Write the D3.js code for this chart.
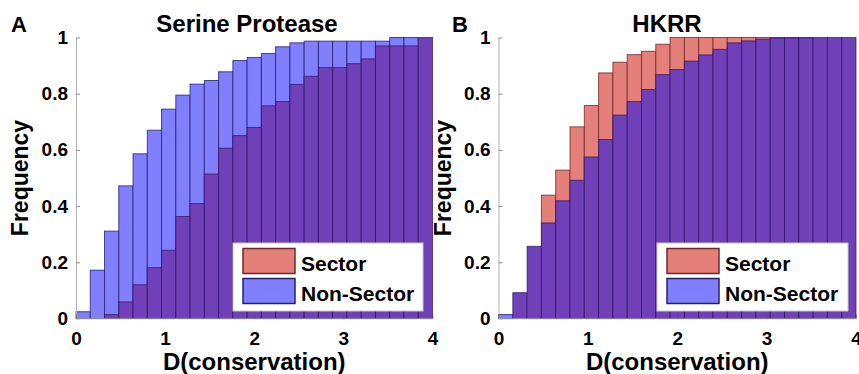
<!DOCTYPE html>
<html><head><meta charset="utf-8">
<script src="https://cdn.jsdelivr.net/npm/d3@7"></script>
<style>body{margin:0;background:#fff}svg{display:block;font-family:"Liberation Sans",Arial,sans-serif;font-weight:bold}</style>
</head><body><svg id="c" width="859" height="374"></svg>
<script>
const binWidth = 0.16;
const nBins = 25;
const xTicks = [0,1,2,3,4];
const yTicks = [0,0.2,0.4,0.6,0.8,1];
const yTickLabels = ["0","0.2","0.4","0.6","0.8","1"];
const legendLabels = ["Sector","Non-Sector"];

const spNonSector = [0.024,0.172,0.311,0.472,0.586,0.670,0.745,0.795,0.834,0.847,0.878,0.918,0.929,0.943,0.967,0.981,0.987,0.987,0.987,0.987,0.987,0.987,1,1,1];
const spSector    = [0,0,0.014,0.059,0.12,0.181,0.243,0.363,0.409,0.514,0.606,0.651,0.680,0.757,0.772,0.833,0.862,0.893,0.893,0.907,0.924,0.970,0.970,0.970,1];
const hkNonSector = [0.014,0.092,0.257,0.340,0.419,0.492,0.575,0.637,0.724,0.772,0.815,0.868,0.886,0.916,0.938,0.958,0.981,0.988,0.994,0.998,0.999,0.999,1,1,1];
const hkSector    = [0,0.092,0.257,0.439,0.528,0.682,0.758,0.874,0.912,0.939,0.951,0.976,1,1,1,1,1,1,1,1,1,1,1,1,1];

const panels = [
  {letter:"A", title:"Serine Protease", sector:spSector, non:spNonSector, x0:76, x1:432.5, titleX:247, letterX:11, legX:233, legW:190},
  {letter:"B", title:"HKRR", sector:hkSector, non:hkNonSector, x0:498.5, x1:856, titleX:667, letterX:452, legX:657, legW:191}
];
const yTop = 37.5, yBot = 318.5;
const colRed = "#e57f7a", colBlue = "#7f7fff", colPurple = "#7040b8";
const strRed = "#6b2a2a", strBlue = "#23236b", strPurple = "#2e1460";

const svg = d3.select("#c");
panels.forEach(p => {
  const g = svg.append("g");
  const x = d3.scaleLinear().domain([0,4]).range([p.x0,p.x1]);
  const y = d3.scaleLinear().domain([0,1]).range([yBot,yTop]);
  const bins = d3.range(nBins).map(i => ({i, lo:i*binWidth, s:p.sector[i], n:p.non[i]}));
  g.selectAll("rect.top").data(bins.filter(d => d.s !== d.n)).join("rect")
    .attr("x", d => x(d.lo)).attr("width", d => x(d.lo+binWidth)-x(d.lo))
    .attr("y", d => y(Math.max(d.s,d.n))).attr("height", d => y(0)-y(Math.max(d.s,d.n)))
    .attr("fill", d => d.n > d.s ? colBlue : colRed)
    .attr("stroke", d => d.n > d.s ? strBlue : strRed).attr("stroke-width",1).attr("stroke-opacity",0.8);
  g.selectAll("rect.ov").data(bins.filter(d => Math.min(d.s,d.n) > 0)).join("rect")
    .attr("x", d => x(d.lo)).attr("width", d => x(d.lo+binWidth)-x(d.lo))
    .attr("y", d => y(Math.min(d.s,d.n))).attr("height", d => y(0)-y(Math.min(d.s,d.n)))
    .attr("fill", colPurple)
    .attr("stroke", strPurple).attr("stroke-width",1).attr("stroke-opacity",0.7);

  const ya = g.append("g").attr("transform",`translate(${p.x0},0)`)
    .call(d3.axisLeft(y).tickValues(yTicks).tickFormat((d,i)=>yTickLabels[i]).tickSizeInner(-4).tickSizeOuter(0).tickPadding(8));
  ya.select(".domain").attr("stroke","#b0b0b0");
  ya.selectAll(".tick line").attr("stroke","#909090");
  ya.selectAll("text").attr("font-size",19).attr("font-weight","bold").attr("fill","#000").attr("font-family","Liberation Sans, Arial");
  const xa = g.append("g").attr("transform",`translate(0,${yBot})`)
    .call(d3.axisBottom(x).tickValues(xTicks).tickFormat(d3.format("d")).tickSizeInner(-4).tickSizeOuter(0).tickPadding(13));
  xa.select(".domain").attr("stroke","#d0d0d0");
  xa.selectAll(".tick line").attr("stroke","#555").attr("stroke-opacity",0.6);
  xa.selectAll("text").attr("font-size",19).attr("font-weight","bold").attr("fill","#000").attr("font-family","Liberation Sans, Arial");

  g.append("text").attr("x",p.titleX).attr("y",32).attr("text-anchor","middle").attr("font-size",24).text(p.title);
  g.append("text").attr("x",p.letterX).attr("y",32).attr("font-size",22).text(p.letter);
  g.append("text").attr("x",(p.x0+p.x1)/2).attr("y",370).attr("text-anchor","middle").attr("font-size",24).text("D(conservation)");
  g.append("text").attr("transform",`translate(${p.x0-48},${(yTop+yBot)/2}) rotate(-90)`).attr("text-anchor","middle").attr("font-size",23).text("Frequency");

  const lg = g.append("g").attr("transform",`translate(${p.legX},243)`);
  lg.append("rect").attr("width",p.legW).attr("height",68).attr("fill","#fff").attr("stroke","#c8c8c8");
  [[colRed,strRed],[colBlue,strBlue]].forEach((c,i)=>{
    lg.append("rect").attr("x",10).attr("y",5.5+i*30).attr("width",52).attr("height",25).attr("fill",c[0]).attr("stroke",c[1]).attr("stroke-width",1.5);
    lg.append("text").attr("x",68).attr("y",27.5+i*30.5).attr("font-size",21).text(legendLabels[i]);
  });
});
</script></body></html>
